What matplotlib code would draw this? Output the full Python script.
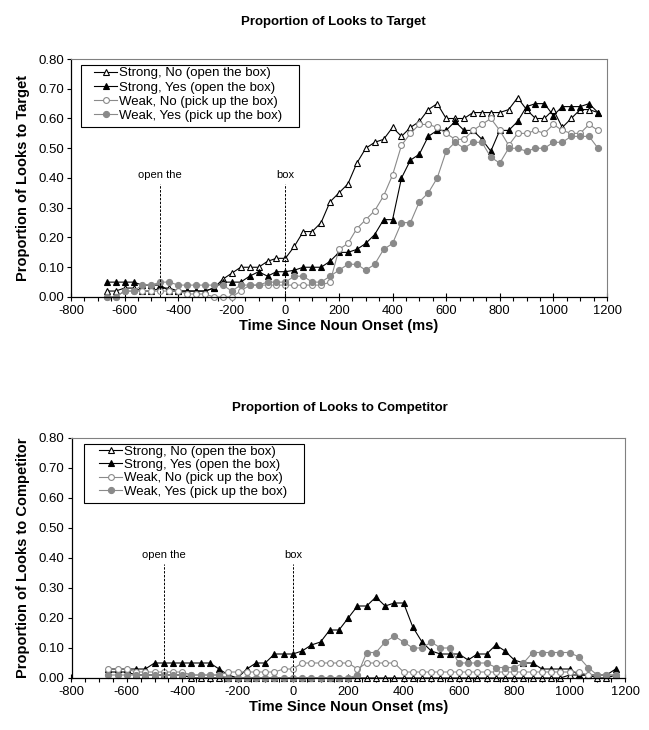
import numpy as np
from matplotlib import pyplot as plt
from matplotlib.patches import Rectangle
from matplotlib.ticker import MultipleLocator, FormatStrFormatter

plt.rcParams['font.family'] = ['Liberation Sans', 'DejaVu Sans']
plt.rcParams['axes.unicode_minus'] = False

# time bins (ms), 33.3 ms steps
t = -666.7 + 33.33 * np.arange(56)

labels = ['Strong, No (open the box)', 'Strong, Yes (open the box)',
          'Weak, No (pick up the box)', 'Weak, Yes (pick up the box)']

# looks to target
tgt_sn = [0.02, 0.02, 0.03, 0.03, 0.02, 0.02, 0.03, 0.03, 0.02, 0.02, 0.02, 0.02, 0.03, 0.06,
          0.08, 0.10, 0.10, 0.10, 0.12, 0.13, 0.13, 0.17, 0.22, 0.22, 0.25, 0.32, 0.35, 0.38,
          0.45, 0.50, 0.52, 0.53, 0.57, 0.54, 0.57, 0.59, 0.63, 0.65, 0.60, 0.60, 0.60, 0.62,
          0.62, 0.62, 0.62, 0.63, 0.67, 0.63, 0.60, 0.60, 0.63, 0.57, 0.60, 0.63, 0.63, 0.62]
tgt_sy = [0.05, 0.05, 0.05, 0.05, 0.04, 0.04, 0.04, 0.02, 0.02, 0.02, 0.02, 0.02, 0.03, 0.05,
          0.05, 0.05, 0.07, 0.085, 0.07, 0.085, 0.085, 0.09, 0.10, 0.10, 0.10, 0.12, 0.15, 0.15,
          0.16, 0.18, 0.21, 0.26, 0.26, 0.40, 0.46, 0.48, 0.54, 0.56, 0.56, 0.59, 0.56, 0.56,
          0.53, 0.49, 0.56, 0.56, 0.59, 0.64, 0.65, 0.65, 0.61, 0.64, 0.64, 0.64, 0.65, 0.62]
tgt_wn = [0.00, 0.00, 0.02, 0.02, 0.02, 0.02, 0.02, 0.02, 0.02, 0.01, 0.01, 0.01, 0.00, 0.00,
          0.00, 0.02, 0.04, 0.04, 0.04, 0.04, 0.04, 0.04, 0.04, 0.04, 0.04, 0.05, 0.16, 0.18,
          0.23, 0.26, 0.29, 0.34, 0.41, 0.51, 0.55, 0.58, 0.58, 0.57, 0.55, 0.53, 0.53, 0.56,
          0.58, 0.60, 0.56, 0.51, 0.55, 0.55, 0.56, 0.55, 0.58, 0.56, 0.55, 0.55, 0.58, 0.56]
tgt_wy = [0.00, 0.00, 0.02, 0.02, 0.04, 0.04, 0.05, 0.05, 0.04, 0.04, 0.04, 0.04, 0.04, 0.04,
          0.02, 0.04, 0.04, 0.04, 0.05, 0.05, 0.05, 0.07, 0.07, 0.05, 0.05, 0.07, 0.09, 0.11,
          0.11, 0.09, 0.11, 0.16, 0.18, 0.25, 0.25, 0.32, 0.35, 0.40, 0.49, 0.52, 0.50, 0.52,
          0.52, 0.47, 0.45, 0.50, 0.50, 0.49, 0.50, 0.50, 0.52, 0.52, 0.54, 0.54, 0.54, 0.50]

# looks to competitor
cmp_sn = [0.02, 0.02, 0.02, 0.01, 0.01, 0.01, 0.01, 0.01, 0.01, 0.00, 0.00, 0.00, 0.00, 0.00,
          0.00, 0.00, 0.00, 0.00, 0.00, 0.00, 0.00, 0.00, 0.00, 0.00, 0.00, 0.00, 0.00, 0.00,
          0.00, 0.00, 0.00, 0.00, 0.00, 0.00, 0.00, 0.00, 0.00, 0.00, 0.00, 0.00, 0.00, 0.00,
          0.00, 0.00, 0.00, 0.00, 0.00, 0.00, 0.00, 0.00, 0.01, 0.01, 0.01, 0.00, 0.00, 0.01]
cmp_sy = [0.03, 0.03, 0.03, 0.03, 0.03, 0.05, 0.05, 0.05, 0.05, 0.05, 0.05, 0.05, 0.03, 0.01,
          0.00, 0.03, 0.05, 0.05, 0.08, 0.08, 0.08, 0.09, 0.11, 0.12, 0.16, 0.16, 0.20, 0.24,
          0.24, 0.27, 0.24, 0.25, 0.25, 0.17, 0.12, 0.09, 0.08, 0.08, 0.08, 0.06, 0.08, 0.08,
          0.11, 0.09, 0.06, 0.05, 0.05, 0.03, 0.03, 0.03, 0.03, 0.01, 0.01, 0.01, 0.01, 0.03]
cmp_wn = [0.03, 0.03, 0.03, 0.02, 0.02, 0.02, 0.02, 0.02, 0.02, 0.01, 0.01, 0.01, 0.01, 0.02,
          0.02, 0.02, 0.02, 0.02, 0.02, 0.03, 0.03, 0.05, 0.05, 0.05, 0.05, 0.05, 0.05, 0.03,
          0.05, 0.05, 0.05, 0.05, 0.02, 0.02, 0.02, 0.02, 0.02, 0.02, 0.02, 0.02, 0.02, 0.02,
          0.02, 0.02, 0.02, 0.02, 0.02, 0.02, 0.02, 0.02, 0.02, 0.02, 0.01, 0.01, 0.01, 0.01]
cmp_wy = [0.01, 0.01, 0.01, 0.01, 0.01, 0.01, 0.01, 0.01, 0.01, 0.01, 0.01, 0.01, 0.01, 0.00,
          0.00, 0.00, 0.00, 0.00, 0.00, 0.00, 0.00, 0.00, 0.00, 0.00, 0.00, 0.00, 0.00, 0.01,
          0.085, 0.085, 0.12, 0.14, 0.12, 0.10, 0.10, 0.12, 0.10, 0.10, 0.05, 0.05, 0.05, 0.05,
          0.035, 0.035, 0.035, 0.05, 0.085, 0.085, 0.085, 0.085, 0.085, 0.07, 0.035, 0.01, 0.01, 0.01]

grey = '#8a8a8a'


def draw(ax, sn, sy, wn, wy, ylab, leg_anchor, box, lsp):
    kw = dict(lw=0.8, ms=4.8, mew=0.8, clip_on=False)
    ax.plot(t, sn, '-^', color='black', mfc='white', mec='black', label=labels[0], **kw)
    ax.plot(t, sy, '-^', color='black', mfc='black', mec='black', label=labels[1], **kw)
    ax.plot(t, wn, '-o', color=grey, mfc='white', mec=grey, label=labels[2], lw=0.8, ms=4.2, mew=0.8, clip_on=False)
    ax.plot(t, wy, '-o', color=grey, mfc=grey, mec=grey, label=labels[3], lw=0.8, ms=4.4, mew=0.8, clip_on=False)

    for x, s in [(-467, 'open the'), (0, 'box')]:
        ax.plot([x, x], [0, 0.38], ls=(0, (2.5, 1.5)), color='black', lw=0.7)
        ax.text(x, 0.41, s, ha='center', va='center', fontsize=8)

    ax.set_xlim(-800, 1200)
    ax.set_ylim(0, 0.8)
    ax.xaxis.set_major_locator(MultipleLocator(200))
    ax.xaxis.set_minor_locator(MultipleLocator(50))
    ax.yaxis.set_major_locator(MultipleLocator(0.1))
    ax.yaxis.set_major_formatter(FormatStrFormatter('%.2f'))
    ax.tick_params(axis='y', labelsize=9.5, width=0.8, direction='out', length=3, pad=2)
    ax.tick_params(axis='x', which='major', labelsize=9.3, width=0.8, direction='inout', length=6, pad=2.5)
    ax.tick_params(axis='x', which='minor', direction='out', length=3, width=0.8)
    for s in ['top', 'right']:
        ax.spines[s].set_color('#808080')
        ax.spines[s].set_linewidth(0.8)
    for s in ['left', 'bottom']:
        ax.spines[s].set_linewidth(0.9)
    ax.set_xlabel('Time Since Noun Onset (ms)', fontsize=10.5, fontweight='bold', labelpad=2)
    ax.set_ylabel(ylab, fontsize=10.5, fontweight='bold', labelpad=6)
    ax.legend(loc='upper left', bbox_to_anchor=leg_anchor, borderaxespad=0, borderpad=0,
              fontsize=9.5, frameon=False, handlelength=1.75,
              handletextpad=0.15, labelspacing=lsp)
    ax.add_patch(Rectangle((box[0], box[1]), box[2] - box[0], box[3] - box[1],
                           transform=ax.transAxes, fill=False, ec='black', lw=0.8,
                           clip_on=False, zorder=5))


fig = plt.figure(figsize=(6.49, 7.30), dpi=100)
ax1 = fig.add_axes([71 / 649, 1 - 297 / 730, 536 / 649, 238 / 730])
ax2 = fig.add_axes([71.5 / 649, 1 - 678 / 730, 553.5 / 649, 240 / 730])

draw(ax1, tgt_sn, tgt_sy, tgt_wn, tgt_wy, 'Proportion of Looks to Target',
     (0.043, 0.966), (0.0187, 0.714, 0.4254, 0.975), 0.15)
draw(ax2, cmp_sn, cmp_sy, cmp_wn, cmp_wy, 'Proportion of Looks to Competitor',
     (0.050, 0.969), (0.0226, 0.729, 0.42, 0.975), 0.08)

fig.text(333 / 649, 1 - 22 / 730, 'Proportion of Looks to Target', ha='center', va='center',
         fontsize=9.5, fontweight='bold')
fig.text(340 / 649, 1 - 408 / 730, 'Proportion of Looks to Competitor', ha='center', va='center',
         fontsize=9.5, fontweight='bold')

fig.savefig('out.png', dpi=100)
